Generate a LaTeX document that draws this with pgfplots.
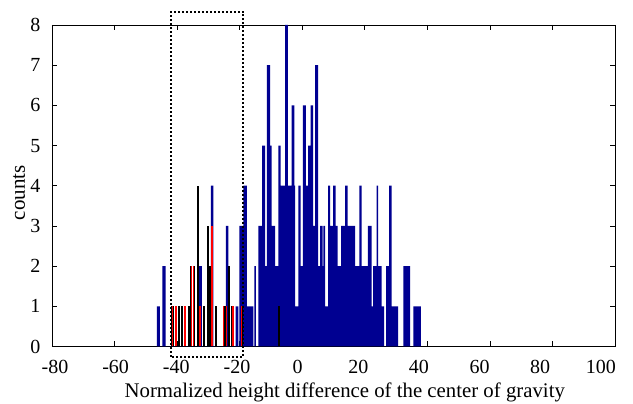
\documentclass[border=0pt]{standalone}
\usepackage{pgfplots}
\pgfplotsset{compat=1.18}
\usepackage{fontspec}
\setmainfont{Liberation Serif}
\definecolor{hblue}{RGB}{0,0,145}
\definecolor{hred}{RGB}{255,0,0}
\begin{document}
\begin{tikzpicture}
\useasboundingbox (-52pt,-57.5pt) rectangle (581pt,346.5pt);
\begin{axis}[
  scale only axis, width=563pt, height=321.5pt,
  xmin=-80, xmax=100, ymin=0, ymax=8,
  xtick={-80,-60,...,100}, xticklabels={},
  extra x ticks={-79.04,-59.65,-40.26,-20.86,-1.47,17.92,37.3,56.7,76.1,95.5},
  extra x tick labels={-80,-60,-40,-20,0,20,40,60,80,100},
  extra x tick style={grid=none, major tick length=0pt},
  ytick={0,1,...,8},
  /pgf/number format/assume math mode=true,
  tick align=inside, major tick length=5pt,
  tick style={black, line width=0.6pt},
  axis line style={black, line width=0.7pt},
  ticklabel style={font=\fontsize{20}{24}\selectfont},
  xticklabel style={yshift=-10pt},
  yticklabel style={xshift=-8pt},
  xlabel={Normalized height difference of the center of gravity},
  xlabel style={font=\fontsize{20.8}{24}\selectfont, at={([yshift=-45.5pt]axis description cs:0.52,0)}, anchor=center},
  ylabel={counts},
  ylabel style={font=\fontsize{21}{24}\selectfont, at={([xshift=-33pt]axis description cs:0,0.478)}, anchor=center},
  clip=false,
]
% overall histogram (blue): left edge of each bin and its count
\addplot[const plot, fill=hblue, draw=none] coordinates {
(-46.5,1) (-45.5,0) (-44.7,2) (-43.7,0)
(-33.2,2) (-32.1,0) (-29.2,4) (-28.4,0) (-24.4,3) (-23.6,0)
(-21.3,1) (-20.4,0) (-20.1,3) (-18.8,4) (-17.7,1) (-16.6,1) (-15.6,0) (-15.3,2) (-14.8,0)
(-14.0,3) (-12.8,5) (-11.9,2) (-11.3,7) (-10.3,5) (-9.8,3) (-8.7,2) (-7.6,5) (-6.9,4) (-6.2,4)
(-5.5,8) (-4.6,4) (-4.0,4) (-3.4,6) (-2.5,4) (-2.3,1) (-1.2,4) (-0.5,2) (0.2,6) (1.2,4)
(1.9,5) (2.7,6) (3.5,3) (4.1,7) (5.1,2) (5.7,3) (6.5,2) (6.8,3) (7.3,1) (8.3,4) (8.9,3)
(9.9,4) (10.7,3) (11.3,2) (12.4,3) (13.1,3) (13.7,4) (14.5,3) (15.3,3) (16.1,3)
(16.9,2) (17.6,2) (18.3,4) (19.0,2) (19.8,2) (20.4,2) (21.0,3) (22.2,1) (22.7,2)
(23.8,4) (24.3,2) (25.4,1) (26.2,0) (26.8,2) (27.8,4) (28.6,1) (29.6,1) (30.7,0)
(32.3,2) (33.4,2) (34.5,0) (35.5,1) (36.7,1) (37.9,0)
} \closedcycle;
% black bars
\addplot[ycomb, black, line width=2.2pt] coordinates {
(-41.47,1) (-40.35,1) (-39.39,1) (-38.52,1) (-37.47,1) (-36.09,1) (-35.45,2) (-34.69,2)
(-33.22,4) (-32.67,1) (-31.39,1) (-30.21,3) (-29.48,2) (-28.84,3) (-27.56,1) (-25.10,1) (-24.27,1)
(-23.40,2) (-22.54,1) (-22.12,1) (-19.34,1) (-7.32,1)
};
% red bars
\addplot[ycomb, hred, line width=1.1pt] coordinates {
(-41.47,1) (-40.35,1) (-37.47,1) (-35.45,2) (-34.69,2) (-32.67,1) (-28.84,3)
(-25.10,1) (-24.27,1) (-22.12,1) (-19.34,1)
};
\draw[dash pattern=on 2pt off 2pt, line width=2pt] (axis cs:-42.0,-0.25) rectangle (axis cs:-18.8,8.33);
\end{axis}
\end{tikzpicture}
\end{document}
